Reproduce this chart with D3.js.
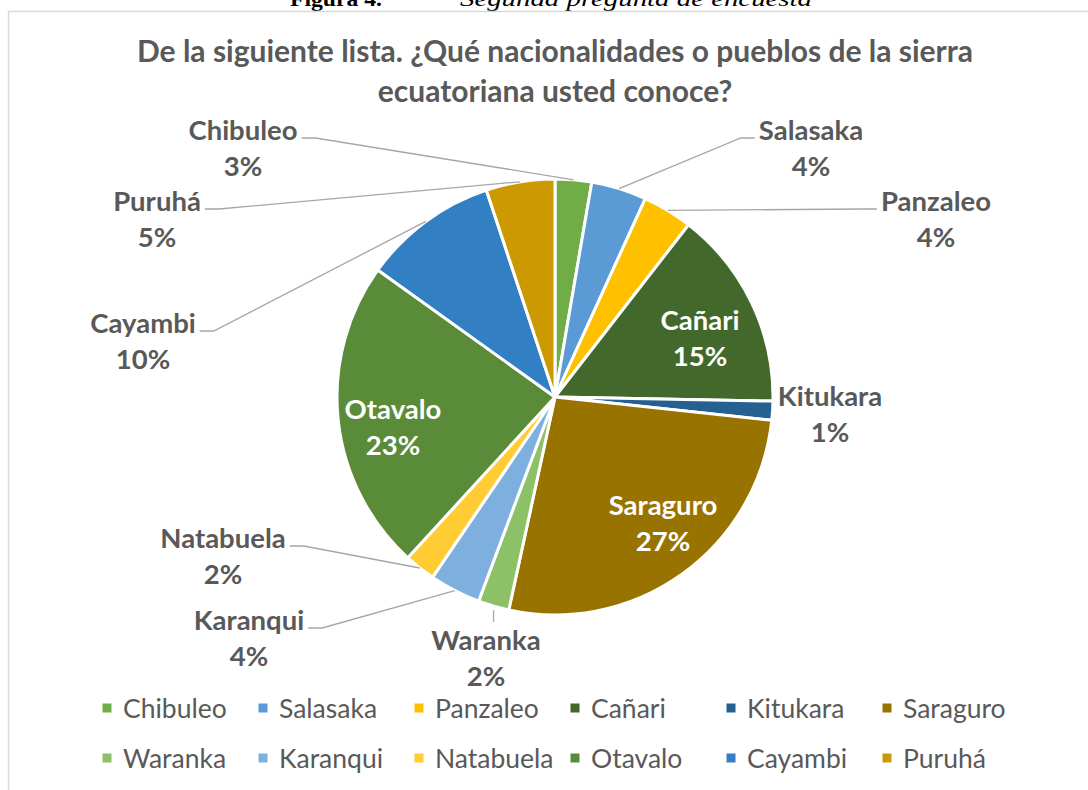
<!DOCTYPE html>
<html>
<head>
<meta charset="utf-8">
<script src="https://cdn.jsdelivr.net/npm/d3@7"></script>
<style>
  body { margin: 0; background: #ffffff; }
  svg { display: block; }
</style>
</head>
<body>
<svg id="chart" width="1088" height="790"></svg>
<script>
// data (share of answers, %)
var pueblos = ["Chibuleo", "Salasaka", "Panzaleo", "Cañari", "Kitukara", "Saraguro",
               "Waranka", "Karanqui", "Natabuela", "Otavalo", "Cayambi", "Puruhá"];
var porcentajes = [2.7, 4.1, 3.7, 14.8, 1.4, 26.7, 2.3, 3.8, 2.3, 23.1, 10.0, 5.1];
var colores = ["#70AD47", "#5B9BD5", "#FFC000", "#43682B", "#266092", "#997300",
               "#8CC168", "#7DB0DE", "#FFCC33", "#5A8B39", "#327FC3", "#CC9900"];
var tituloLineas = ["De la siguiente lista. ¿Qué nacionalidades o pueblos de la sierra",
                    "ecuatoriana usted conoce?"];

// where excel put each data label (centre x, centre y of first line)
// side: which way the leader goes, "in" = white label inside the slice
var etiquetas = {
    "Chibuleo":  {x: 243, y: 130, side: "left"},
    "Salasaka":  {x: 811, y: 130, side: "right"},
    "Panzaleo":  {x: 936, y: 201, side: "right"},
    "Cañari":    {x: 700, y: 320, side: "in"},
    "Kitukara":  {x: 830, y: 396, side: "none"},
    "Saraguro":  {x: 663, y: 505, side: "in"},
    "Waranka":   {x: 486, y: 640, side: "below"},
    "Karanqui":  {x: 249, y: 620, side: "left"},
    "Natabuela": {x: 223, y: 538, side: "left"},
    "Otavalo":   {x: 393, y: 409, side: "in"},
    "Cayambi":   {x: 143, y: 323, side: "left"},
    "Puruhá":    {x: 157, y: 201, side: "left"}
};

var FONT = "Lato, 'Open Sans', sans-serif";
var GRIS = "#595959";

var svg = d3.select("#chart");

var datos = pueblos.map(function (p, i) {
    return {name: p, value: porcentajes[i], color: colores[i]};
});
var total = d3.sum(datos, function (d) { return d.value; });
var fmt = d3.format(".0%");

// caption of the document, cut by the top of the picture
svg.append("text")
    .attr("x", 290).attr("y", 6)
    .attr("font-family", "'Liberation Serif', 'Times New Roman', serif")
    .attr("font-size", 22).attr("font-weight", "bold")
    .attr("fill", "#000")
    .attr("textLength", 92).attr("lengthAdjust", "spacingAndGlyphs")
    .text("Figura 4.");
svg.append("text")
    .attr("x", 460).attr("y", 6)
    .attr("font-family", "'Liberation Serif', 'Times New Roman', serif")
    .attr("font-size", 22).attr("font-style", "italic")
    .attr("fill", "#000")
    .attr("textLength", 352).attr("lengthAdjust", "spacingAndGlyphs")
    .text("Segunda pregunta de encuesta");

// chart area border (only top and left show)
svg.append("path")
    .attr("d", "M8.5,790 L8.5,11.5 L1088,11.5")
    .attr("fill", "none")
    .attr("stroke", "#D9D9D9")
    .attr("stroke-width", 1.5);

// title
svg.append("g").selectAll("text")
    .data(tituloLineas)
    .enter().append("text")
    .attr("x", 555)
    .attr("y", function (d, i) { return 62 + i * 40; })
    .attr("text-anchor", "middle")
    .attr("font-family", FONT)
    .attr("font-size", 30)
    .attr("font-weight", "bold")
    .attr("fill", GRIS)
    .text(function (d) { return d; });

// pie
var cx = 555, cy = 397, radio = 218;
var pie = d3.pie().sort(null).value(function (d) { return d.value; });
var arc = d3.arc().innerRadius(0).outerRadius(radio);
var arcos = pie(datos);

var g = svg.append("g").attr("transform", "translate(" + cx + "," + cy + ")");

g.selectAll("path.slice")
    .data(arcos)
    .enter().append("path")
    .attr("class", "slice")
    .attr("d", arc)
    .attr("fill", function (d) { return d.data.color; })
    .attr("stroke", "#fff")
    .attr("stroke-width", 3)
    .attr("stroke-linejoin", "round");

// point on the rim in the middle of a slice
function borde(d) {
    var a = (d.startAngle + d.endAngle) / 2;
    return [cx + radio * Math.sin(a), cy - radio * Math.cos(a)];
}

var capa = svg.append("g");

arcos.forEach(function (d) {
    var e = etiquetas[d.data.name];
    var dentro = e.side === "in";
    var t = capa.append("text")
        .attr("text-anchor", "middle")
        .attr("font-family", FONT)
        .attr("font-size", 27.5)
        .attr("font-weight", "bold")
        .attr("fill", dentro ? "#fff" : GRIS);
    t.append("tspan").attr("x", e.x).attr("y", e.y + 9.5).text(d.data.name);
    t.append("tspan").attr("x", e.x).attr("y", e.y + 45.5).text(fmt(d.data.value / total));

    if (e.side === "left" || e.side === "right") {
        var w = t.select("tspan").node().getComputedTextLength();
        var p = borde(d);
        var sx, ex;
        if (e.side === "left") {
            sx = e.x + w / 2 + 4; ex = sx + 14;
        } else {
            sx = e.x - w / 2 - 4; ex = sx - 14;
        }
        var sy = e.y + 8;
        capa.append("path")
            .attr("d", d3.line()([[sx, sy], [ex, sy], p]))
            .attr("fill", "none")
            .attr("stroke", "#A6A6A6")
            .attr("stroke-width", 1.3);
    } else if (e.side === "below") {
        var q = borde(d);
        capa.append("path")
            .attr("d", d3.line()([[q[0], e.y - 18], [q[0], q[1] + 4]]))
            .attr("fill", "none")
            .attr("stroke", "#A6A6A6")
            .attr("stroke-width", 1.3);
    }
});

// legend, 6 columns x 2 rows
var colX = d3.scalePoint().domain(d3.range(6)).range([107, 887]);
var filaY = d3.scalePoint().domain([0, 1]).range([708, 758]);

var leyenda = svg.append("g").selectAll("g")
    .data(datos)
    .enter().append("g")
    .attr("transform", function (d, i) {
        return "translate(" + colX(i % 6) + "," + filaY(Math.floor(i / 6)) + ")";
    });
leyenda.append("rect")
    .attr("x", -4.5).attr("y", -4.5)
    .attr("width", 9).attr("height", 9)
    .attr("fill", function (d) { return d.color; });
leyenda.append("text")
    .attr("x", 16).attr("y", 9.5)
    .attr("font-family", FONT)
    .attr("font-size", 26.5)
    .attr("fill", GRIS)
    .text(function (d) { return d.name; });
</script>
</body>
</html>
